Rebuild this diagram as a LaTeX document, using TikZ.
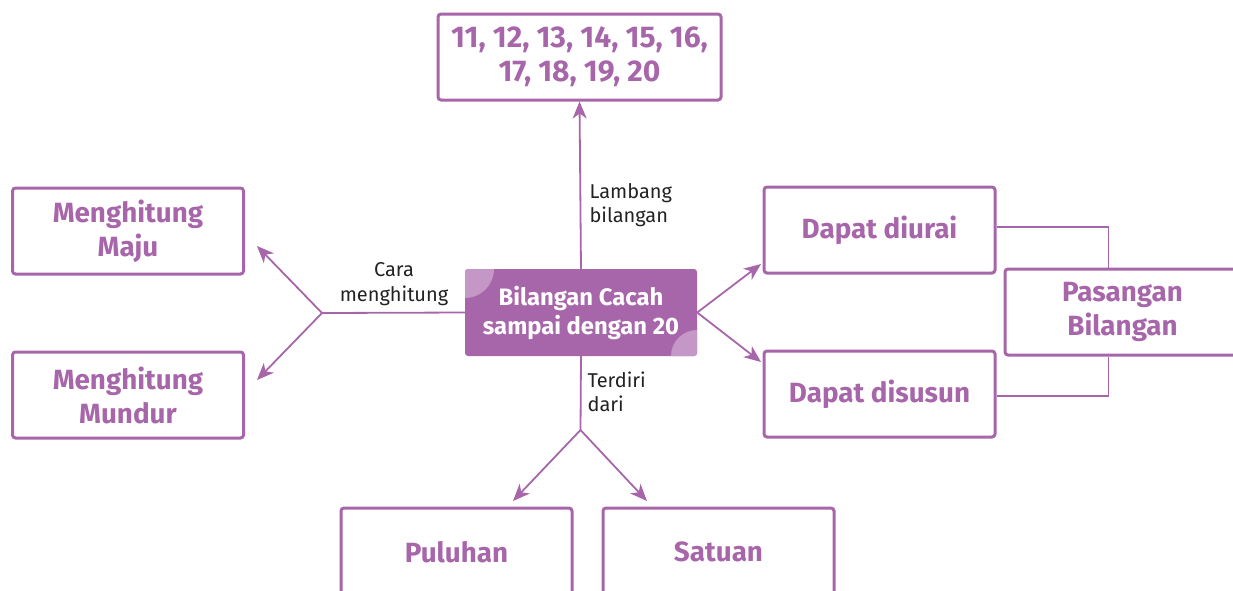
\documentclass[tikz,border=0pt]{standalone}
\usepackage{fontspec}
\setmainfont{Fira Sans}
\usepackage{tikz}
\usetikzlibrary{arrows.meta,positioning,calc}
\definecolor{bcpurple}{HTML}{A866AA}
\definecolor{bclight}{HTML}{C597C6}
\definecolor{bctext}{HTML}{222222}

\tikzset{
  conceptbox/.style={draw=bcpurple, line width=3pt, rounded corners=3pt,
    minimum width=231pt, minimum height=86pt, align=center, text=bcpurple,
    font=\fontsize{27.8}{34}\selectfont\bfseries},
  centrebox/.style={fill=bcpurple, rounded corners=3pt, minimum width=232pt,
    minimum height=87pt, align=center, text=white,
    font=\fontsize{23.8}{29}\selectfont\bfseries},
  link/.style={draw=bcpurple, line width=1.8pt},
  linkarrow/.style={link, -{Stealth[length=17pt,width=14pt,inset=5pt]}},
  linklabel/.style={text=bctext, font=\fontsize{20}{24.5}\selectfont},
}

\begin{document}
\begin{tikzpicture}[x=1pt, y=-1pt]
    \useasboundingbox (0,0) rectangle (1233,590);
    \clip (0,0) rectangle (1233,590);

    % central concept
    \node[centrebox, path picture={
        \fill[bclight] (path picture bounding box.north west) circle (29pt);
        \fill[bclight] (path picture bounding box.south east) circle (26pt);
      }] (ctr) at (581,312.5) {Bilangan Cacah\\sampai dengan 20};

    % surrounding boxes
    \node[conceptbox, minimum width=283pt, font=\fontsize{30}{34}\selectfont\bfseries] (nums) at (579.5,57) {11, 12, 13, 14, 15, 16,\\17, 18, 19, 20};
    \node[conceptbox] (maju) at (128,231) {Menghitung\\Maju};
    \node[conceptbox] (mundur) at (128,395) {Menghitung\\Mundur};
    \node[conceptbox] (diurai) at (879.5,230) {Dapat diurai};
    \node[conceptbox] (disusun) at (879.5,394) {Dapat disusun};
    \node[conceptbox, minimum width=235pt] (pasangan) at (1122.5,312) {Pasangan\\Bilangan};
    \node[conceptbox, minimum height=88pt] (puluhan) at (456.5,552) {Puluhan};
    \node[conceptbox, minimum height=88pt] (satuan) at (718.5,552) {Satuan};

    % branch points and arrow ends
    \coordinate (leftfork) at (322,313);
    \coordinate (majuend) at (257,246);
    \coordinate (mundurend) at (257,380);
    \coordinate (botfork) at (580.5,430);
    \coordinate (puluhanend) at (513,501);
    \coordinate (satuanend) at (647,501);
    \coordinate (diuraiend) at (761,264);
    \coordinate (disusunend) at (761,362);

    % upwards
    \draw[linkarrow] (ctr.north) -- (nums.south);
    \node[linklabel, anchor=west, align=left] (lambang) at (586,205) {Lambang\\bilangan};

    % to the left
    \draw[link] (ctr.west) -- (leftfork);
    \draw[linkarrow] (leftfork) -- (majuend);
    \draw[linkarrow] (leftfork) -- (mundurend);
    \node[linklabel, align=center] (cara) at (394,284) {Cara\\menghitung};

    % downwards
    \draw[link] (ctr.south) -- (botfork);
    \draw[linkarrow] (botfork) -- (puluhanend);
    \draw[linkarrow] (botfork) -- (satuanend);
    \node[linklabel, anchor=west, align=left] (terdiri) at (584,392) {Terdiri\\dari};

    % to the right
    \draw[linkarrow] (ctr.east) -- (diuraiend);
    \draw[linkarrow] (ctr.east) -- (disusunend);

    % bracket to Pasangan Bilangan
    \draw[link] ([yshift=3pt]diurai.east) -| ([xshift=-14pt]pasangan.north);
    \draw[link] ([yshift=-2pt]disusun.east) -| ([xshift=-14pt]pasangan.south);
\end{tikzpicture}
\end{document}
